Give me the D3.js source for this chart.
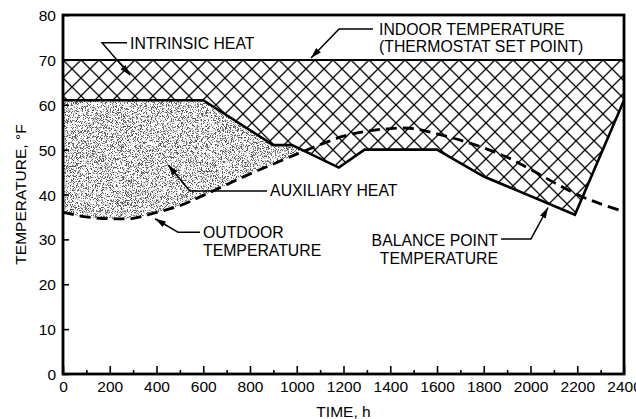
<!DOCTYPE html>
<html>
<head>
<meta charset="utf-8">
<script src="https://cdn.jsdelivr.net/npm/d3@7"></script>
<style>
  body { margin: 0; background: #fff; }
  svg text { font-family: "Liberation Sans", Arial, sans-serif; fill: #000; }
</style>
</head>
<body>
<div id="chart"></div>
<script>
// values (time in h, temperature in °F)
const setPoint = 70;
const balanceHours = [0, 600, 900, 980, 1180, 1290, 1600, 1800, 2190, 2400];
const balanceTemp  = [61, 61, 51, 51, 46, 50, 50, 44, 35.5, 61];
const outdoorHours = [0, 100, 200, 300, 400, 500, 600, 700, 800, 900, 1000, 1100, 1200,
                      1300, 1400, 1500, 1600, 1700, 1800, 1900, 2000, 2100, 2200, 2300, 2400];
const outdoorTemp  = [36, 35, 34.6, 34.7, 36, 37.5, 39.8, 42.2, 44.6, 46.8, 49, 51.1, 53,
                      54.1, 54.7, 54.7, 53.5, 52.1, 50.4, 48.3, 45.6, 42.7, 40, 37.9, 36.2];
const xTickLabels = [0, 200, 400, 600, 800, 1000, 1200, 1400, 1600, 1800, 2000, 2200, 2400];
const xMinorTicks = [100, 300, 500, 700, 900, 1100, 1300, 1500, 1700, 1900, 2100, 2300];
const yTickLabels = [0, 10, 20, 30, 40, 50, 60, 70, 80];

const width = 636, height = 419;
const margin = { top: 15, right: 12, bottom: 45, left: 63 };

const svg = d3.select("#chart").append("svg")
  .attr("width", width)
  .attr("height", height);

const x = d3.scaleLinear().domain([0, 2400]).range([margin.left, width - margin.right]);
const y = d3.scaleLinear().domain([0, 80]).range([height - margin.bottom, margin.top]);

const balance = balanceHours.map((h, i) => ({ h, t: balanceTemp[i] }));
const outdoor = outdoorHours.map((h, i) => ({ h, t: outdoorTemp[i] }));

const defs = svg.append("defs");

// cross hatch for intrinsic heat
const hatch = defs.append("pattern")
  .attr("id", "hatch")
  .attr("patternUnits", "userSpaceOnUse")
  .attr("x", margin.left).attr("y", y(setPoint))
  .attr("width", 18).attr("height", 18);
hatch.append("path")
  .attr("d", "M-1,-1L19,19M-1,19L19,-1")
  .attr("stroke", "#000")
  .attr("stroke-width", 1.25);

// speckle texture for auxiliary heat
const grain = defs.append("filter")
  .attr("id", "grain")
  .attr("x", 0).attr("y", 0).attr("width", 1).attr("height", 1);
grain.append("feTurbulence")
  .attr("type", "fractalNoise")
  .attr("baseFrequency", 1.2)
  .attr("numOctaves", 2)
  .attr("seed", 4)
  .attr("result", "noise");
grain.append("feColorMatrix")
  .attr("in", "noise")
  .attr("type", "matrix")
  .attr("values", "0 0 0 0 0.1  0 0 0 0 0.1  0 0 0 0 0.1  -8 0 0 0 4.1")
  .attr("result", "dots");
grain.append("feFlood").attr("flood-color", "#fff").attr("result", "white");
const merge = grain.append("feMerge").attr("result", "tex");
merge.append("feMergeNode").attr("in", "white");
merge.append("feMergeNode").attr("in", "dots");
grain.append("feComposite")
  .attr("in", "tex").attr("in2", "SourceAlpha").attr("operator", "in");

// the auxiliary heat sits under the balance line and above the outdoor curve,
// only in the first part of the season
const auxClip = defs.append("clipPath").attr("id", "auxClip");
auxClip.append("path")
  .attr("d", d3.area()
    .x(d => x(d.h))
    .y0(y(0))
    .y1(d => y(d.t))(balance.filter(d => d.h <= 1180)));

svg.append("g")
  .attr("clip-path", "url(#auxClip)")
  .append("path")
  .attr("d", d3.area()
    .curve(d3.curveCatmullRom)
    .x(d => x(d.h))
    .y0(d => y(d.t))
    .y1(y(80))(outdoor))
  .attr("fill", "#fff")
  .attr("filter", "url(#grain)");

// intrinsic heat
svg.append("path")
  .attr("d", d3.area()
    .x(d => x(d.h))
    .y0(d => y(d.t))
    .y1(y(setPoint))(balance))
  .attr("fill", "url(#hatch)");

// set point line
svg.append("line")
  .attr("x1", x(0)).attr("x2", x(2400))
  .attr("y1", y(setPoint)).attr("y2", y(setPoint))
  .attr("stroke", "#000")
  .attr("stroke-width", 2);

// balance point temperature
svg.append("path")
  .attr("d", d3.line().x(d => x(d.h)).y(d => y(d.t))(balance))
  .attr("fill", "none")
  .attr("stroke", "#000")
  .attr("stroke-width", 2.6)
  .attr("stroke-linejoin", "miter");

// outdoor temperature
svg.append("path")
  .attr("d", d3.line().curve(d3.curveCatmullRom).x(d => x(d.h)).y(d => y(d.t))(outdoor))
  .attr("fill", "none")
  .attr("stroke", "#000")
  .attr("stroke-width", 2.8)
  .attr("stroke-dasharray", "11,6");

// axes with inward ticks
const xAxis = svg.append("g")
  .attr("transform", `translate(0,${y(0)})`)
  .call(d3.axisBottom(x).tickValues(xTickLabels).tickSize(-8).tickPadding(7).tickFormat(d3.format("d")));
const xMinor = svg.append("g")
  .attr("transform", `translate(0,${y(0)})`)
  .call(d3.axisBottom(x).tickValues(xMinorTicks).tickSize(-4).tickFormat(""));
const yAxis = svg.append("g")
  .attr("transform", `translate(${x(0)},0)`)
  .call(d3.axisLeft(y).tickValues(yTickLabels).tickSize(-6).tickPadding(7));

[xAxis, xMinor, yAxis].forEach(g => {
  g.select(".domain").remove();
  g.selectAll(".tick line").attr("stroke", "#000").attr("stroke-width", 1.6);
  g.selectAll("text").attr("font-size", 15.5).attr("font-family", null).attr("fill", "#000");
});
yAxis.selectAll("text").attr("dy", "0.36em");

// frame
svg.append("rect")
  .attr("x", x(0)).attr("y", y(80))
  .attr("width", x(2400) - x(0))
  .attr("height", y(0) - y(80))
  .attr("fill", "none")
  .attr("stroke", "#000")
  .attr("stroke-width", 2.8);

svg.append("text")
  .attr("x", (x(0) + x(2400)) / 2)
  .attr("y", 417)
  .attr("text-anchor", "middle")
  .attr("font-size", 15.5)
  .text("TIME, h");

svg.append("text")
  .attr("transform", `translate(26,${(y(0) + y(80)) / 2}) rotate(-90)`)
  .attr("text-anchor", "middle")
  .attr("font-size", 15.5)
  .text("TEMPERATURE, °F");

// callouts, placed in data units
defs.append("marker")
  .attr("id", "arrow")
  .attr("viewBox", "0 0 10 6")
  .attr("refX", 10).attr("refY", 3)
  .attr("markerUnits", "userSpaceOnUse")
  .attr("markerWidth", 11).attr("markerHeight", 6.5)
  .attr("orient", "auto")
  .append("path")
  .attr("d", "M0,0L10,3L0,6Z")
  .attr("fill", "#000");

const callouts = [
  { lines: ["INTRINSIC HEAT"], anchor: "start", at: [287, 72.4],
    leader: [[274, 73.8], [167, 73.8], [287, 66.6]] },
  { lines: ["INDOOR TEMPERATURE", "(THERMOSTAT SET POINT)"], anchor: "start", at: [1352, 75.6],
    leader: [[1326, 76.9], [1181, 76.9], [1061, 70.4]] },
  { lines: ["AUXILIARY HEAT"], anchor: "start", at: [886, 39.6],
    leader: [[873, 40.8], [543, 40.8], [449, 46.6]] },
  { lines: ["OUTDOOR", "TEMPERATURE"], anchor: "start", at: [599, 30.3],
    leader: [[586, 31.6], [492, 31.6], [394, 34.6]] },
  { lines: ["BALANCE POINT", "TEMPERATURE"], anchor: "end", at: [1861, 28.5],
    leader: [[1874, 30.1], [2002, 30.1], [2075, 37.1]] }
];

const co = svg.append("g").selectAll("g").data(callouts).join("g");
co.append("path")
  .attr("d", d => d3.line().x(p => x(p[0])).y(p => y(p[1]))(d.leader))
  .attr("fill", "none")
  .attr("stroke", "#000")
  .attr("stroke-width", 1.5)
  .attr("marker-end", "url(#arrow)");
co.append("text")
  .attr("x", d => x(d.at[0]))
  .attr("y", d => y(d.at[1]))
  .attr("text-anchor", d => d.anchor)
  .attr("font-size", 15.8)
  .selectAll("tspan")
  .data(d => d.lines.map(t => ({ t, x: x(d.at[0]) })))
  .join("tspan")
  .attr("x", d => d.x)
  .attr("dy", (d, i) => i ? 17.5 : 0)
  .text(d => d.t);
</script>
</body>
</html>
